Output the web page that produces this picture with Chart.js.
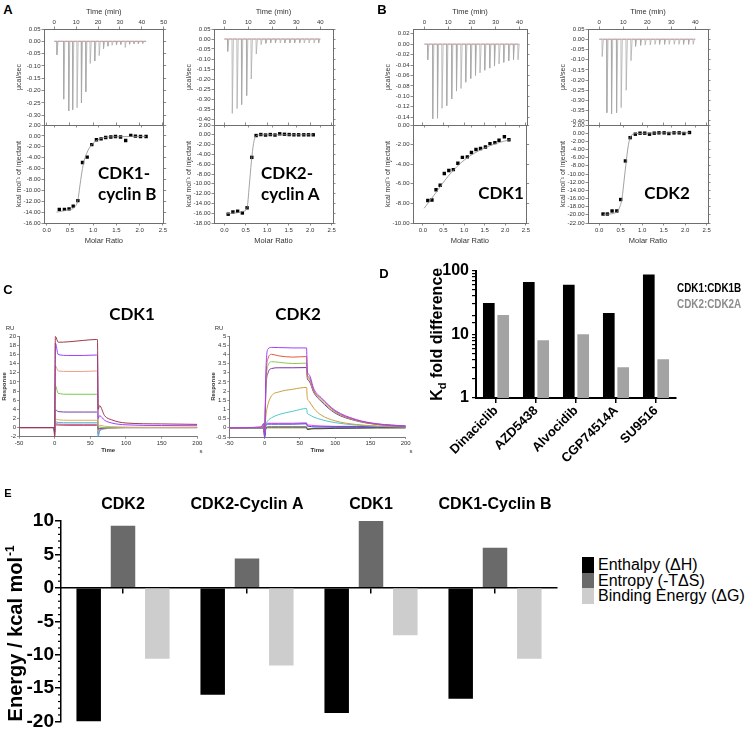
<!DOCTYPE html>
<html>
<head>
<meta charset="utf-8">
<title>CDK binding: ITC, SPR, Kd and thermodynamics</title>
<script src="https://cdn.jsdelivr.net/npm/chart.js@4.4.1/dist/chart.umd.min.js"></script>
<style>
  html, body { margin:0; padding:0; background:#fff; }
  body { position:relative; width:750px; height:734px; overflow:hidden; font-family: Arial, 'Liberation Sans', sans-serif; }
  .cv { position:absolute; }
  .cv canvas { display:block; }
  .tx { position:absolute; white-space:nowrap; line-height:1; transform:translate(-50%,-50%); color:#000; }
  .tl { position:absolute; white-space:nowrap; line-height:1; color:#000; }
</style>
</head>
<body>
<script>
// ===================== DATA =====================
// --- ITC thermograms: injection times (min) and peak heat rates (µcal/sec)
const injTimeCDK1B = [1.1, 4.2, 6.5, 8.3, 10.3, 12.3, 14.3, 16.3, 18.4, 20.4, 22.4, 24.4, 26.3, 28.3, 30.3, 32.3, 34.3, 36.3, 38.3, 40.3];
const peakCDK1B    = [-0.055, -0.235, -0.283, -0.278, -0.27, -0.25, -0.205, -0.09, -0.08, -0.058, -0.03, -0.02, -0.016, -0.014, -0.013, -0.025, -0.012, -0.01, -0.01, -0.009];
const baseCDK1B    = [0, 42];
const injTimeCDK2A = [1.3, 3.2, 5.2, 7.1, 9.2, 11.1, 13.2, 15.2, 17.2, 19.2, 21.2, 23.2, 25.1, 27.2, 29.2, 31.3, 33.2, 35.2, 37.3, 39.2];
const peakCDK2A    = [-0.062, -0.372, -0.348, -0.328, -0.283, -0.2, -0.075, -0.028, -0.022, -0.02, -0.02, -0.02, -0.02, -0.02, -0.02, -0.02, -0.02, -0.02, -0.02, -0.02];
const baseCDK2A    = [0, 40];
const injTimeCDK1  = [1.3, 3.4, 5.4, 7.3, 9.3, 11.4, 13.4, 15.3, 17.3, 19.4, 21.4, 23.3, 25.3, 27.4, 29.4, 31.3, 33.3, 35.4, 37.4, 39.3];
const peakCDK1     = [-0.03, -0.143, -0.142, -0.123, -0.118, -0.105, -0.09, -0.085, -0.073, -0.066, -0.06, -0.055, -0.05, -0.046, -0.042, -0.038, -0.035, -0.032, -0.03, -0.03];
const baseCDK1     = [0, 40];
const injTimeCDK2  = [1.1, 3.05, 5.0, 7.1, 9.0, 11.1, 13.1, 15.0, 17.1, 19.0, 21.1, 23.1, 25.0, 27.1, 29.0, 31.1, 33.1, 35.0, 37.1, 39.0];
const peakCDK2     = [-0.085, -0.36, -0.365, -0.36, -0.335, -0.25, -0.105, -0.035, -0.03, -0.028, -0.028, -0.025, -0.025, -0.025, -0.025, -0.025, -0.025, -0.025, -0.025, -0.025];
const baseCDK2     = [0, 40];

// --- ITC isotherms: molar ratio vs kcal/mol of injectant, and fitted curve
const ratioCDK1B = [0.27, 0.38, 0.48, 0.57, 0.67, 0.77, 0.87, 0.97, 1.07, 1.17, 1.27, 1.38, 1.48, 1.59, 1.70, 1.81, 1.91, 2.02, 2.14];
const heatCDK1B  = [-13.5, -13.5, -13.4, -12.9, -11.9, -4.9, -3.9, -1.6, -0.7, -0.55, -0.3, -0.2, -0.1, -0.2, -0.85, 0.1, -0.05, -0.1, -0.1];
const fitRatioCDK1B = [0.21, 0.45, 0.61, 0.67, 0.71, 0.75, 0.79, 0.86, 0.96, 1.14, 1.5, 2.14];
const fitHeatCDK1B  = [-14.0, -13.6, -13.0, -11.8, -9.4, -7.0, -5.1, -3.2, -1.7, -0.55, -0.15, -0.1];

const ratioCDK2A = [0.09, 0.20, 0.31, 0.42, 0.53, 0.64, 0.74, 0.85, 0.96, 1.07, 1.18, 1.29, 1.40, 1.51, 1.62, 1.73, 1.85, 1.96, 2.07];
const heatCDK2A  = [-16.2, -15.75, -15.6, -15.95, -14.9, -4.6, -0.15, 0.05, -0.05, 0.05, -0.05, 0.2, 0.1, 0.05, 0, 0, 0, 0, 0];
const fitRatioCDK2A = [0.05, 0.3, 0.45, 0.53, 0.58, 0.63, 0.68, 0.74, 0.85, 2.07];
const fitHeatCDK2A  = [-16.1, -15.9, -15.6, -14.9, -10.5, -5.5, -1.8, -0.2, 0, 0];

const ratioCDK1 = [0.12, 0.22, 0.32, 0.42, 0.52, 0.63, 0.74, 0.85, 0.96, 1.08, 1.18, 1.29, 1.40, 1.52, 1.63, 1.75, 1.85, 1.98, 2.09];
const heatCDK1  = [-7.7, -7.65, -6.6, -6.15, -4.95, -4.65, -4.55, -3.9, -3.3, -3.25, -2.8, -2.5, -2.4, -2.25, -1.9, -1.8, -1.55, -1.2, -1.5];
const fitRatioCDK1 = [0.03, 0.3, 0.6, 0.9, 1.2, 1.5, 1.8, 2.12];
const fitHeatCDK1  = [-8.5, -7.0, -5.3, -3.95, -3.0, -2.35, -1.85, -1.5];

const ratioCDK2 = [0.09, 0.19, 0.30, 0.41, 0.50, 0.61, 0.72, 0.84, 0.95, 1.06, 1.17, 1.28, 1.39, 1.51, 1.62, 1.74, 1.86, 1.97, 2.10];
const heatCDK2  = [-19.8, -19.8, -19.05, -19.05, -16.25, -6.8, -1.1, -0.25, 0, 0, -0.25, 0, 0.08, 0.08, -0.08, 0.08, 0.08, -0.08, 0.16];
const fitRatioCDK2 = [0.1, 0.4, 0.47, 0.53, 0.58, 0.63, 0.68, 0.74, 0.84, 2.1];
const fitHeatCDK2  = [-19.9, -19.4, -18.3, -16.0, -11.5, -6.8, -2.8, -0.7, -0.1, 0.1];

// --- SPR sensorgrams (time in s, response in RU)
const sprTimeCDK1 = [-50, -1, 0, 1, 5, 20, 40, 59, 60, 61, 63, 70, 80, 100, 150, 200];
const sprCDK1 = [
  [0, 0, -2, 20, 18.7, 18.8, 19.1, 19.3, 19.3, 4.0, 4.8, 2.6, 1.7, 1.0, 0.8, 0.7],
  [0, 0, -1, 18.5, 16.0, 15.8, 15.8, 15.9, 15.9, 2.0, 2.6, 1.6, 1.0, 0.6, 0.45, 0.4],
  [0, 0, -1, 13.5, 12.4, 12.3, 12.3, 12.4, 12.4, 0.6, 0.5, 0.3, 0.2, 0.1, 0.05, 0.05],
  [0, 0, -1, 9.2, 7.5, 7.3, 7.3, 7.3, 7.3, 0.2, 0.1, 0, 0, 0, 0, 0],
  [0, 0, -1, 3.9, 3.5, 3.4, 3.4, 3.4, 3.4, -0.3, -0.2, -0.1, 0, 0, 0, 0],
  [0, 0, -1, 1.9, 1.7, 1.6, 1.6, 1.6, 1.6, -0.8, -0.4, -0.2, -0.1, 0, 0, 0],
  [0, 0, -1.5, 1.3, 1.1, 1.05, 1.05, 1.05, 1.05, -2, -0.8, -0.3, -0.1, 0, 0, 0],
  [0, 0, -2, 0.9, 0.75, 0.7, 0.7, 0.7, 0.7, -1.5, -0.6, -0.2, -0.1, 0, 0, 0],
  [0, 0, -1, 0.6, 0.55, 0.5, 0.5, 0.5, 0.5, -0.6, -0.3, -0.1, 0, 0, 0, 0]
];
const sprTimeCDK2 = [-50, -5, -1, 0, 2, 5, 10, 20, 40, 59.5, 60.5, 63, 70, 80, 100, 130, 160, 200];
const sprCDK2 = [
  [0, 0.05, 0.25, -0.5, 3.2, 4.3, 4.38, 4.37, 4.35, 4.35, 3.1, 2.9, 2.1, 1.65, 0.95, 0.45, 0.22, 0.1],
  [0, 0.03, 0.2, -0.4, 2.7, 3.8, 4.0, 3.92, 3.85, 3.88, 2.9, 2.75, 2.0, 1.6, 0.9, 0.42, 0.2, 0.1],
  [0, 0, 0.15, -0.3, 2.4, 3.4, 3.6, 3.57, 3.5, 3.52, 2.8, 2.65, 1.95, 1.5, 0.85, 0.4, 0.2, 0.1],
  [0, 0, 0.1, -0.3, 2.2, 3.0, 3.23, 3.27, 3.27, 3.28, 2.7, 2.55, 1.9, 1.45, 0.8, 0.38, 0.18, 0.08],
  [0, 0, 0.05, -0.2, 0.7, 1.3, 1.75, 1.95, 2.1, 2.2, 1.65, 1.45, 1.05, 0.7, 0.38, 0.18, 0.1, 0.05],
  [0, 0, 0.05, -0.2, 0.2, 0.4, 0.55, 0.72, 0.9, 1.05, 0.8, 0.72, 0.58, 0.45, 0.28, 0.15, 0.08, 0.05],
  [0, 0, 0, -0.5, 0.15, 0.2, 0.2, 0.2, 0.2, 0.22, 0.1, 0.08, 0.05, 0.05, 0.05, 0.05, 0.05, 0.05],
  [0, 0, 0.05, -0.4, 0.2, 0.25, 0.25, 0.25, 0.25, 0.27, 0.15, 0.15, 0.12, 0.1, 0.08, 0.08, 0.06, 0.05],
  [0, 0, 0, -0.5, 0, 0.05, 0.05, 0.05, 0.05, 0.05, -0.1, -0.08, -0.05, -0.05, -0.03, -0.02, 0, 0],
  [0, 0, 0, -0.3, -0.05, 0, 0, 0, 0, 0, -0.05, -0.05, -0.03, -0.02, 0, 0, 0, 0]
];

// --- Panel D: Kd fold difference
const inhibitors   = ['Dinaciclib', 'AZD5438', 'Alvocidib', 'CGP74514A', 'SU9516'];
const kdFoldCDK1   = [31, 66, 60, 21.5, 87];
const kdFoldCDK2   = [20, 8.1, 10, 3.05, 4.07];
const kdSeriesNames = ['CDK1:CDK1B', 'CDK2:CDK2A'];

// --- Panel E: thermodynamic signature (kcal/mol)
const complexes     = ['CDK2', 'CDK2-Cyclin A', 'CDK1', 'CDK1-Cyclin B'];
const enthalpy      = [-20, -16, -18.7, -16.6];
const entropy       = [9.3, 4.4, 10, 6];
const bindingEnergy = [-10.6, -11.6, -7.1, -10.6];
const energyNames   = ['Enthalpy (ΔH)', 'Entropy (-TΔS)', 'Binding Energy (ΔG)'];

// ===================== HELPERS =====================
const SANS = "Arial, 'Liberation Sans', sans-serif";
const CALI = "Lato, 'Open Sans', sans-serif";
const FRAME = '#6e6e6e';
Chart.defaults.font.family = SANS;

function addCanvas(l, t, w, h) {
  const d = document.createElement('div');
  d.className = 'cv';
  d.style.left = l + 'px'; d.style.top = t + 'px';
  d.style.width = w + 'px'; d.style.height = h + 'px';
  const c = document.createElement('canvas');
  d.appendChild(c); document.body.appendChild(d);
  return c;
}
function addText(txt, x, y, css, cls) {
  const d = document.createElement('div');
  d.className = cls || 'tx';
  d.textContent = txt;
  d.style.left = x + 'px'; d.style.top = y + 'px';
  if (css) d.style.cssText += css;
  document.body.appendChild(d);
  return d;
}
const fixW = w => s => { s.width = w; };
const fixH = h => s => { s.height = h; };
// regular ticks every `step` inside the axis range (range itself stays as set)
const stepTicks = step => s => {
  const out = [];
  const a = Math.ceil(s.min / step - 1e-6), b = Math.floor(s.max / step + 1e-6);
  for (let k = a; k <= b; k++) out.push({ value: +(k * step).toFixed(6) });
  s.ticks = out;
};
const fmt = d => v => (Math.abs(v) < 1e-9 ? 0 : v).toFixed(d);
const pts = (xs, ys) => xs.map((x, i) => ({ x: x, y: ys[i] }));

function linAxis(o) {
  const ax = {
    type: 'linear', position: o.pos, min: o.min, max: o.max, bounds: 'ticks',
    ticks: { display: !!o.fmt, stepSize: o.step, callback: o.fmt || (() => ''),
      font: { family: SANS, size: o.fs || 6, weight: o.fw || 'normal' }, color: o.col || '#333',
      padding: o.pad == null ? 1 : o.pad, maxRotation: 0, minRotation: 0, autoSkip: false },
    grid: { display: true, drawOnChartArea: false, drawTicks: true, tickLength: o.tl == null ? 2.5 : o.tl, color: o.gc || FRAME, lineWidth: 0.8 },
    border: { display: true, color: o.gc || FRAME, width: o.bw || 1 },
    title: o.title ? { display: true, text: o.title, color: '#333', font: { family: SANS, size: o.tfs || 7, weight: o.tw || 'normal' }, padding: o.tpad || 0 } : { display: false }
  };
  if (o.step) ax.afterBuildTicks = stepTicks(o.step);
  if (o.w != null) ax.afterFit = fixW(o.w);
  if (o.h != null) ax.afterFit = fixH(o.h);
  return ax;
}
function baseOpts(scales, extra) {
  return Object.assign({
    responsive: true, maintainAspectRatio: false, animation: false, events: [],
    layout: { autoPadding: false, padding: 0 },
    plugins: { legend: { display: false }, tooltip: { enabled: false }, title: { display: false } },
    scales: scales
  }, extra || {});
}
// thermogram trace: baseline with a sharp downward peak at every injection
function thermoTrace(times, peaks, t0, t1) {
  const out = [{ x: t0, y: 0 }];
  times.forEach((t, i) => { out.push({ x: t, y: 0 }, { x: t + 0.12, y: peaks[i] }, { x: t + 0.6, y: 0 }); });
  out.push({ x: t1, y: 0 });
  return out;
}

// ===================== PANELS A & B (ITC) =====================
const itcPanels = [
  { frameL: 44,  frameR: 164, time: [-4.7, 50],  thermoY: [-0.34, 0.05],  thermoStep: 0.05, isoY: [-16, 2], molar: [-0.06, 2.52],
    inj: injTimeCDK1B, peak: peakCDK1B, base: baseCDK1B, ratio: ratioCDK1B, heat: heatCDK1B, fitR: fitRatioCDK1B, fitH: fitHeatCDK1B },
  { frameL: 214, frameR: 333, time: [-4.3, 45.3], thermoY: [-0.43, 0.05],  thermoStep: 0.05, isoY: [-18, 2], molar: [-0.24, 2.53],
    inj: injTimeCDK2A, peak: peakCDK2A, base: baseCDK2A, ratio: ratioCDK2A, heat: heatCDK2A, fitR: fitRatioCDK2A, fitH: fitHeatCDK2A },
  { frameL: 413, frameR: 527, time: [-4.8, 43.2], thermoY: [-0.155, 0.029], thermoStep: 0.02, isoY: [-10, 0], molar: [-0.24, 2.52],
    inj: injTimeCDK1, peak: peakCDK1, base: baseCDK1, ratio: ratioCDK1, heat: heatCDK1, fitR: fitRatioCDK1, fitH: fitHeatCDK1 },
  { frameL: 588, frameR: 708, time: [-4.7, 45.3], thermoY: [-0.42, 0.05],  thermoStep: 0.05, isoY: [-22, 2], molar: [-0.26, 2.53],
    inj: injTimeCDK2, peak: peakCDK2, base: baseCDK2, ratio: ratioCDK2, heat: heatCDK2, fitR: fitRatioCDK2, fitH: fitHeatCDK2 }
];

itcPanels.forEach(p => {
  const L = 30, R = 4;
  const W = p.frameR - p.frameL + L + R, left = p.frameL - L;
  // thermogram (upper)
  const c1 = addCanvas(left, 0, W, 130);
  new Chart(c1, {
    type: 'line',
    data: { datasets: [
      { data: thermoTrace(p.inj, p.peak, p.base[0], p.base[1]), borderColor: '#a6a6a6', borderWidth: 0.7, pointRadius: 0, tension: 0, xAxisID: 'x', yAxisID: 'y' },
      { data: pts(p.base, [0, 0]), borderColor: '#d98a8a', borderWidth: 0.8, pointRadius: 0, xAxisID: 'x', yAxisID: 'y' }
    ] },
    options: baseOpts({
      xt: linAxis({ pos: 'top', min: p.time[0], max: p.time[1], step: 10, fmt: v => String(v), title: 'Time (min)', tfs: 7.5, tpad: { top: 7.5, bottom: 0 }, h: 29 }),
      x:  linAxis({ pos: 'bottom', min: p.time[0], max: p.time[1], step: 10, h: 5 }),
      y:  linAxis({ pos: 'left', min: p.thermoY[0], max: p.thermoY[1], step: p.thermoStep, fmt: fmt(2), title: 'µcal/sec', tpad: { top: 0.5, bottom: 0 }, w: L }),
      yr: linAxis({ pos: 'right', min: p.thermoY[0], max: p.thermoY[1], step: p.thermoStep, w: R })
    })
  });
  // isotherm (lower)
  const c2 = addCanvas(left, 120, W, 130);
  new Chart(c2, {
    type: 'line',
    data: { datasets: [
      { data: pts(p.fitR, p.fitH), borderColor: '#8c8c8c', borderWidth: 0.8, pointRadius: 0, cubicInterpolationMode: 'monotone', xAxisID: 'x', yAxisID: 'y' },
      { data: pts(p.ratio, p.heat), showLine: false, pointStyle: 'rect', pointRadius: 2.4, backgroundColor: '#000', borderWidth: 0, xAxisID: 'x', yAxisID: 'y' }
    ] },
    options: baseOpts({
      x:  linAxis({ pos: 'bottom', min: p.molar[0], max: p.molar[1], step: 0.5, fmt: fmt(1), title: 'Molar Ratio', tfs: 7.5, tpad: { top: 0, bottom: 4.5 }, h: 27 }),
      xt: linAxis({ pos: 'top', min: p.molar[0], max: p.molar[1], step: 0.5, h: 5 }),
      y:  linAxis({ pos: 'left', min: p.isoY[0], max: p.isoY[1], step: 2, fmt: fmt(2), title: 'kcal mol⁻¹ of injectant', tpad: { top: 0.5, bottom: 0 }, w: L }),
      yr: linAxis({ pos: 'right', min: p.isoY[0], max: p.isoY[1], step: 2, w: R })
    })
  });
});

// ===================== PANEL C (SPR) =====================
const sprColorsCDK1 = ['#9c3a4a', '#9a40ff', '#e8a08a', '#78c850', '#7040a0', '#d8b060', '#40b0d8', '#e050b0', '#a05030'];
const sprColorsCDK2 = ['#a040ff', '#e05a40', '#8cc850', '#7a30a8', '#c8a040', '#50c8c8', '#3a3ae0', '#e040e0', '#404040', '#808030'];
function sprChart(canvas, times, series, colors, o) {
  new Chart(canvas, {
    type: 'line',
    data: { datasets: series.map((s, i) => ({ data: pts(times, s), borderColor: colors[i], borderWidth: 1, pointRadius: 0, cubicInterpolationMode: 'monotone' })) },
    options: baseOpts({
      x: linAxis({ pos: 'bottom', min: -50, max: 200, step: 50, fmt: v => String(v), title: 'Time', tw: 'bold', tfs: 6, tpad: { top: 0, bottom: 1.4 }, gc: '#777', tl: 2, h: o.xh }),
      y: linAxis({ pos: 'left', min: o.ymin, max: o.ymax, step: o.ystep, fmt: v => String(v), title: 'Response', tw: 'bold', tfs: 6, tpad: { top: o.tp, bottom: 0 }, gc: '#777', tl: 2, w: o.yw })
    }, { layout: { autoPadding: false, padding: { top: o.top, right: o.right, left: 0, bottom: 0 } } })
  });
}
sprChart(addCanvas(0, 322, 205, 133), sprTimeCDK1, sprCDK1, sprColorsCDK1, { ymin: -2, ymax: 20, ystep: 2, yw: 19, xh: 18.3, top: 14.3, right: 7.7, tp: 0.4 });
sprChart(addCanvas(207, 322, 205, 133), sprTimeCDK2, sprCDK2, sprColorsCDK2, { ymin: -0.5, ymax: 5, ystep: 0.5, yw: 22.3, xh: 18, top: 14, right: 6.3, tp: 2.4 });

// ===================== PANEL D (Kd fold, log) =====================
const kdTitle = {
  id: 'kdTitle',
  afterDraw(chart) {
    const { ctx, chartArea: a } = chart;
    ctx.save();
    ctx.translate(18, (a.top + a.bottom) / 2);
    ctx.rotate(-Math.PI / 2);
    ctx.fillStyle = '#000'; ctx.textBaseline = 'alphabetic'; ctx.textAlign = 'left';
    const big = 'bold 16px ' + SANS, small = 'bold 11px ' + SANS;
    ctx.font = big; const wK = ctx.measureText('K').width; const wRest = ctx.measureText(' fold difference').width;
    ctx.font = small; const wd = ctx.measureText('d').width;
    let x = -(wK + wd + wRest) / 2;
    ctx.font = big; ctx.fillText('K', x, 6); x += wK;
    ctx.font = small; ctx.fillText('d', x, 10); x += wd;
    ctx.font = big; ctx.fillText(' fold difference', x, 6);
    ctx.restore();
  }
};
new Chart(addCanvas(418, 258, 262, 204), {
  type: 'bar',
  data: { labels: inhibitors, datasets: [
    { label: kdSeriesNames[0], data: kdFoldCDK1, backgroundColor: '#000', categoryPercentage: 0.72, barPercentage: 0.81 },
    { label: kdSeriesNames[1], data: kdFoldCDK2, backgroundColor: '#a3a3a3', categoryPercentage: 0.72, barPercentage: 0.81 }
  ] },
  options: baseOpts({
    x: { offset: true,
      grid: { display: true, drawOnChartArea: false, offset: false, tickLength: 5, color: '#000', lineWidth: 1.5 },
      border: { color: '#000', width: 2 },
      ticks: { font: { family: SANS, size: 13, weight: 'bold' }, color: '#000', minRotation: 45, maxRotation: 45, padding: 0, autoSkip: false },
      afterFit: fixH(64) },
    y: { type: 'logarithmic', min: 1, max: 100,
      grid: { display: true, drawOnChartArea: false, tickLength: 4, color: '#000', lineWidth: 1.2 },
      border: { color: '#000', width: 2 },
      ticks: { callback: v => ([1, 10, 100].includes(v) ? String(v) : ''), font: { family: SANS, size: 16, weight: 'bold' }, color: '#000', padding: 3, autoSkip: false },
      afterFit: fixW(58) }
  }, { layout: { autoPadding: false, padding: { top: 8, right: 4, left: 0, bottom: 0 } } }),
  plugins: [kdTitle]
});

// ===================== PANEL E (thermodynamics) =====================
const eDecor = {
  id: 'eDecor',
  afterDraw(chart) {
    const { ctx, chartArea: a } = chart;
    const s = chart.scales.y;
    ctx.save();
    ctx.strokeStyle = '#000'; ctx.lineWidth = 1.2;
    for (let v = Math.ceil(s.min); v <= s.max; v++) {
      if (v % 5 === 0) continue;
      const y = s.getPixelForValue(v);
      ctx.beginPath(); ctx.moveTo(s.right - 3, y); ctx.lineTo(s.right, y); ctx.stroke();
    }
    // rotated axis title with superscript
    ctx.translate(16, (a.top + a.bottom) / 2 + 12);
    ctx.rotate(-Math.PI / 2);
    ctx.fillStyle = '#000'; ctx.textAlign = 'left'; ctx.textBaseline = 'alphabetic';
    const big = 'bold 20px ' + SANS, small = 'bold 12px ' + SANS;
    ctx.font = big; const w1 = ctx.measureText('Energy / kcal mol').width;
    ctx.font = small; const w2 = ctx.measureText('-1').width;
    const x0 = -(w1 + w2 + 1) / 2;
    ctx.font = big; ctx.fillText('Energy / kcal mol', x0, 6);
    ctx.font = small; ctx.fillText('-1', x0 + w1 + 1, -2);
    ctx.restore();
  }
};
new Chart(addCanvas(0, 485, 560, 249), {
  type: 'bar',
  data: { labels: complexes, datasets: [
    { label: energyNames[0], data: enthalpy, backgroundColor: '#000' },
    { label: energyNames[1], data: entropy, backgroundColor: '#6a6a6a' },
    { label: energyNames[2], data: bindingEnergy, backgroundColor: '#cdcdcd' }
  ] },
  options: baseOpts({
    x: { type: 'category', position: { y: 0 }, offset: true,
      grid: { display: true, drawOnChartArea: false, offset: false, tickLength: 5, color: '#000', lineWidth: 1.5 },
      border: { color: '#000', width: 1.5 },
      ticks: { display: false },
      afterFit: fixH(0) },
    xTitles: { type: 'category', labels: complexes, position: 'top', offset: true,
      grid: { display: false, drawTicks: false }, border: { display: false },
      ticks: { font: { family: SANS, size: 16, weight: 'bold' }, color: '#000', padding: 7, autoSkip: false, maxRotation: 0 },
      afterFit: fixH(36) },
    y: { min: -20, max: 10,
      ticks: { stepSize: 5, font: { family: SANS, size: 19, weight: 'bold' }, color: '#000', padding: 1 },
      grid: { display: true, drawOnChartArea: false, tickLength: 6, color: '#000', lineWidth: 1.5 },
      border: { color: '#000', width: 1.5 },
      afterFit: fixW(61) }
  }, {
    layout: { autoPadding: false, padding: { top: 0, right: 3, left: 0, bottom: 10 } },
    datasets: { bar: { categoryPercentage: 0.83, barPercentage: 0.714 } }
  }),
  plugins: [eDecor]
});

// ===================== TEXT (panel letters, titles, legends) =====================
addText('A', 8, 9, 'font-weight:bold;font-size:13px;');
addText('B', 382, 9, 'font-weight:bold;font-size:13px;');
addText('C', 8, 289, 'font-weight:bold;font-size:13px;');
addText('D', 384, 273, 'font-weight:bold;font-size:13px;');
addText('E', 8, 493, 'font-weight:bold;font-size:11px;');

const bigCss = 'font-family:' + CALI + ';font-weight:bold;font-size:17px;line-height:21px;';
addText('CDK1-', 98, 162, bigCss, 'tl');
addText('cyclin B', 98, 183, bigCss, 'tl');
addText('CDK2-', 261, 162, bigCss, 'tl');
addText('cyclin A', 261, 183, bigCss, 'tl');
addText('CDK1', 501, 192, 'font-family:' + CALI + ';font-weight:bold;font-size:17px;');
addText('CDK2', 667, 192, 'font-family:' + CALI + ';font-weight:bold;font-size:17px;');

addText('CDK1', 132, 313, 'font-family:' + CALI + ';font-weight:bold;font-size:17px;');
addText('CDK2', 298, 313, 'font-family:' + CALI + ';font-weight:bold;font-size:17px;');
addText('RU', 10, 328, 'font-size:6px;color:#333;');
addText('RU', 219, 328, 'font-size:6px;color:#333;');
addText('s', 201, 451, 'font-size:6px;color:#333;');
addText('s', 411, 451, 'font-size:6px;color:#333;');

// Panel D legend (text only, condensed bold)
const condBold = 'font-family:' + SANS + ';font-weight:bold;font-size:13px;transform:scaleX(0.76);transform-origin:0 0;';
addText(kdSeriesNames[0], 677, 281, condBold + 'color:#000;', 'tl');
addText(kdSeriesNames[1], 677, 297, condBold + 'color:#8c8c8c;', 'tl');

// Panel E legend
const eColors = ['#000', '#6a6a6a', '#cdcdcd'];
energyNames.forEach((n, i) => {
  const sw = document.createElement('div');
  sw.style.cssText = 'position:absolute;left:582px;top:' + (557 + i * 15.5) + 'px;width:12px;height:15.5px;background:' + eColors[i] + ';';
  document.body.appendChild(sw);
  addText(n, 598, 557 + i * 15.5 - 1, 'font-size:16px;line-height:17px;', 'tl');
});
</script>
</body>
</html>
